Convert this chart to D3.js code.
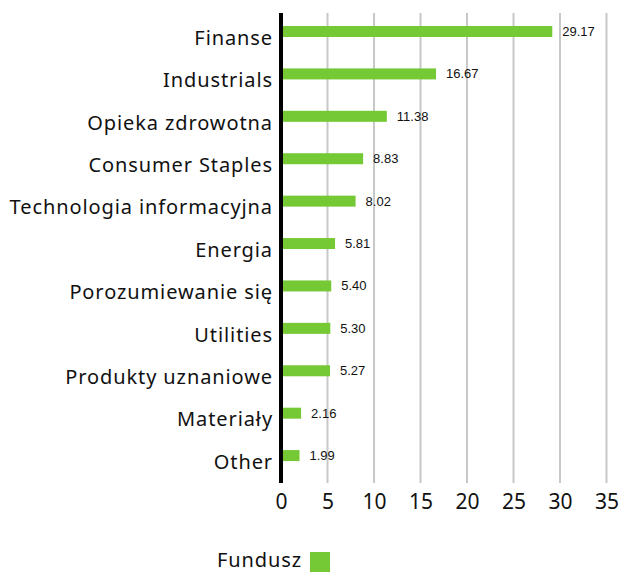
<!DOCTYPE html>
<meta charset="UTF-8"/>
<style>body { margin: 0; } * { font-family: 'Noto Sans', sans-serif }</style>
<svg width="619" height="573"></svg>
<script src="https://d3js.org/d3.v7.min.js"></script>
<script>
var categories = ["Finanse", "Industrials", "Opieka zdrowotna", "Consumer Staples",
  "Technologia informacyjna", "Energia", "Porozumiewanie się", "Utilities",
  "Produkty uznaniowe", "Materiały", "Other"];
var values = [29.17, 16.67, 11.38, 8.83, 8.02, 5.81, 5.40, 5.30, 5.27, 2.16, 1.99];
var ticks = [0, 5, 10, 15, 20, 25, 30, 35];
var seriesName = "Fundusz";

var svg = d3.select("svg"),
    green = "#74c935";

var x = d3.scaleLinear().domain([0, 35]).range([281, 606.5]);
var y = d3.scaleBand().domain(categories).range([15.5, 482]).padding(0);

// grid lines
svg.append("g")
  .selectAll("line")
  .data(ticks.slice(1))
  .join("line")
    .attr("x1", function(d) { return x(d); })
    .attr("x2", function(d) { return x(d); })
    .attr("y1", 13)
    .attr("y2", 483)
    .attr("stroke", "#c8c8c8")
    .attr("stroke-width", 2);

// bars
svg.append("g")
  .selectAll("rect")
  .data(values)
  .join("rect")
    .attr("x", x(0))
    .attr("y", function(d, i) { return y(categories[i]) + 10.5; })
    .attr("width", function(d) { return x(d) - x(0); })
    .attr("height", 11)
    .attr("fill", green);

// value labels
svg.append("g")
  .selectAll("text")
  .data(values)
  .join("text")
    .attr("x", function(d) { return x(d) + 10; })
    .attr("y", function(d, i) { return y(categories[i]) + 20.5; })
    .style("font-family", "'Liberation Sans', Arial")
    .style("font-size", "13px")
    .attr("fill", "#111")
    .text(function(d) { return d.toFixed(2); });

// category axis
var yAxis = svg.append("g")
    .attr("transform", "translate(273,0)")
    .call(d3.axisLeft(y).tickSize(0).tickPadding(0));
yAxis.select(".domain").remove();
yAxis.selectAll("text")
    .attr("dy", "0.35em")
    .attr("y", 1)
    .style("font-size", "20px")
    .style("letter-spacing", "0.9px")
    .attr("fill", "#111");

svg.append("line")
    .attr("x1", x(0)).attr("x2", x(0))
    .attr("y1", 13).attr("y2", 483)
    .attr("stroke", "#000")
    .attr("stroke-width", 4);

// value axis
var xAxis = svg.append("g")
    .attr("transform", "translate(0,483)")
    .call(d3.axisBottom(x).tickValues(ticks).tickSize(0).tickPadding(0));
xAxis.select(".domain").remove();
xAxis.selectAll("text")
    .attr("y", 26)
    .attr("dy", 0)
    .style("font-size", "21px")
    .attr("fill", "#111");

// legend
svg.append("text")
    .attr("x", 302)
    .attr("y", 567)
    .attr("text-anchor", "end")
    .style("font-size", "20px")
    .style("letter-spacing", "0.9px")
    .attr("fill", "#111")
    .text(seriesName);
svg.append("rect")
    .attr("x", 310).attr("y", 552)
    .attr("width", 20).attr("height", 20)
    .attr("fill", green);
</script>
